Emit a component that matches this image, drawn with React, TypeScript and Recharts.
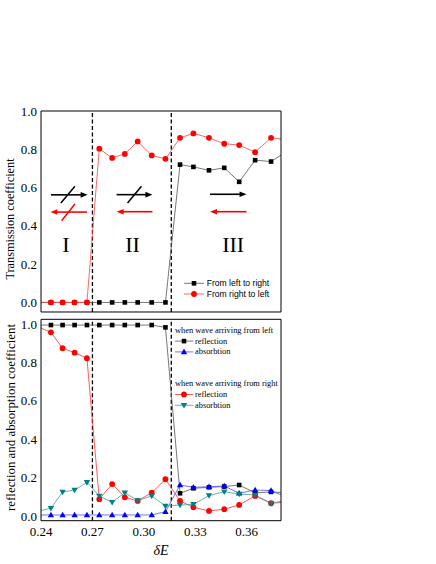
import React from 'react'
import { ComposedChart, Line, XAxis, YAxis, ReferenceLine, ReferenceDot, Legend, Label } from 'recharts'

// δE sample points; first and last sit just outside the plotted window
const deltaE = [0.2386, 0.2458, 0.2526, 0.2596, 0.2668, 0.274, 0.2815, 0.2889, 0.2964, 0.3046, 0.3126, 0.3211, 0.3289, 0.338, 0.3469, 0.3556, 0.3649, 0.3742, 0.3836]

// transmission
const transLeftToRight = [0, 0, 0, 0, 0, 0, 0, 0, 0, 0, 0, 0.72, 0.708, 0.69, 0.703, 0.63, 0.743, 0.736, 0.79]
const transRightToLeft = [0, 0, 0, 0, 0, 0.803, 0.755, 0.776, 0.841, 0.768, 0.75, 0.86, 0.883, 0.86, 0.829, 0.822, 0.785, 0.86, 0.85]

// reflection / absorption
const reflFromLeft = [0.995, 0.995, 0.995, 0.995, 0.995, 0.995, 0.995, 0.995, 0.995, 0.995, 0.983, 0.118, 0.144, 0.149, 0.153, 0.161, 0.12, 0.125, 0.12]
const absFromLeft = [0.005, 0.005, 0.005, 0.005, 0.005, 0.005, 0.005, 0.005, 0.005, 0.005, 0.022, 0.161, 0.149, 0.152, 0.156, 0.118, 0.135, 0.132, 0.096]
const reflFromRight = [0.985, 0.957, 0.874, 0.851, 0.822, 0.087, 0.166, 0.097, 0.078, 0.121, 0.191, 0.078, 0.045, 0.026, 0.035, 0.057, 0.104, 0.066, 0.072]
const absFromRight = [0.025, 0.04, 0.125, 0.135, 0.175, 0.104, 0.071, 0.121, 0.08, 0.104, 0.051, 0.057, 0.06, 0.106, 0.126, 0.114, 0.109, 0.066, 0.082]

const xMajor = [0.24, 0.27, 0.3, 0.33, 0.36]
const xMinor = [0.255, 0.285, 0.315, 0.345, 0.375]
const yMajor = [0, 0.2, 0.4, 0.6, 0.8, 1.0]
const yMinor = [0.1, 0.3, 0.5, 0.7, 0.9]
const regionEdges = [0.27, 0.316]

const X_DOMAIN: [number, number] = [0.24, 0.38]
const serif = '"Liberation Serif", "Times New Roman", serif'
const sans = '"Liberation Sans", Arial, sans-serif'

const topData = deltaE.map((x, i) => ({ x, ltr: transLeftToRight[i], rtl: transRightToLeft[i] }))
const bottomData = deltaE.map((x, i) => ({
  x,
  reflL: reflFromLeft[i],
  absL: absFromLeft[i],
  reflR: reflFromRight[i],
  absR: absFromRight[i],
}))

type Shape = 'square' | 'circle' | 'up' | 'down'

const topSeries = [
  { key: 'ltr', name: 'From left to right', fill: '#000000', stroke: '#555555', shape: 'square' as Shape },
  { key: 'rtl', name: 'From right to left', fill: '#ff0000', stroke: '#ff4040', shape: 'circle' as Shape },
]
const bottomSeries = [
  { key: 'reflL', name: 'reflection', fill: '#000000', stroke: '#555555', shape: 'square' as Shape },
  { key: 'absL', name: 'absorbtion', fill: '#0000ff', stroke: '#5050ff', shape: 'up' as Shape },
  { key: 'reflR', name: 'reflection', fill: '#ff0000', stroke: '#ff3030', shape: 'circle' as Shape },
  { key: 'absR', name: 'absorbtion', fill: '#008080', stroke: '#40a0a0', shape: 'down' as Shape },
]

// arrows and "blocked" slashes in the transmission panel
const arrows = [
  { from: { x: 0.2458, y: 0.562 }, to: { x: 0.2672, y: 0.562 }, color: '#000' },
  { from: { x: 0.2668, y: 0.472 }, to: { x: 0.2455, y: 0.472 }, color: '#ff0000' },
  { from: { x: 0.2841, y: 0.563 }, to: { x: 0.305, y: 0.563 }, color: '#000' },
  { from: { x: 0.305, y: 0.474 }, to: { x: 0.2841, y: 0.474 }, color: '#ff0000' },
  { from: { x: 0.3386, y: 0.565 }, to: { x: 0.3599, y: 0.565 }, color: '#000' },
  { from: { x: 0.3599, y: 0.474 }, to: { x: 0.3386, y: 0.474 }, color: '#ff0000' },
]
const slashes = [
  { from: { x: 0.2516, y: 0.519 }, to: { x: 0.2598, y: 0.607 }, color: '#000' },
  { from: { x: 0.252, y: 0.427 }, to: { x: 0.2598, y: 0.514 }, color: '#ff0000' },
  { from: { x: 0.2905, y: 0.519 }, to: { x: 0.2986, y: 0.607 }, color: '#000' },
]
const regions = [
  { text: 'I', x: 0.2545, y: 0.262 },
  { text: 'II', x: 0.2934, y: 0.262 },
  { text: 'III', x: 0.3521, y: 0.262 },
]

function Marker({ cx, cy, shape, fill }: { cx?: number; cy?: number; shape: Shape; fill: string }) {
  if (cx == null || cy == null || isNaN(cx) || isNaN(cy)) return null
  if (shape === 'square') return <rect x={cx - 2.3} y={cy - 2.3} width={4.6} height={4.6} fill={fill} />
  if (shape === 'circle') return <circle cx={cx} cy={cy} r={2.9} fill={fill} />
  if (shape === 'up')
    return <polygon points={`${cx},${cy - 3.3} ${cx - 3.2},${cy + 2.3} ${cx + 3.2},${cy + 2.3}`} fill={fill} />
  return <polygon points={`${cx},${cy + 3.3} ${cx - 3.2},${cy - 2.3} ${cx + 3.2},${cy - 2.3}`} fill={fill} />
}

const dotFor = (shape: Shape, fill: string) => (p: any) =>
  <Marker key={`dot-${p.index}`} cx={p.cx} cy={p.cy} shape={shape} fill={fill} />

function ArrowShape(props: any) {
  const { x1, y1, x2, y2, stroke } = props
  const dx = x2 - x1
  const dy = y2 - y1
  const len = Math.hypot(dx, dy) || 1
  const ux = dx / len
  const uy = dy / len
  const hl = 7
  const hw = 2.8
  const bx = x2 - ux * hl
  const by = y2 - uy * hl
  return (
    <g>
      <line x1={x1} y1={y1} x2={bx + ux} y2={by + uy} stroke={stroke} strokeWidth={1.6} />
      <polygon points={`${x2},${y2} ${bx - uy * hw},${by + ux * hw} ${bx + uy * hw},${by - ux * hw}`} fill={stroke} />
    </g>
  )
}

// inward tick marks on all four sides, majors longer than minors.
// mirrored axes need a non-zero size or recharts skips them; each pair
// also gets an invisible line so the axes are in use.
function frame(yDomain: [number, number], key: string) {
  const tickLine = { stroke: '#000', strokeWidth: 1 }
  const xc = { type: 'number' as const, dataKey: 'x', domain: X_DOMAIN, allowDataOverflow: true, mirror: true, height: 0.01, tick: false, tickLine, axisLine: false, interval: 0 as const }
  const yc = { type: 'number' as const, domain: yDomain, allowDataOverflow: true, mirror: true, width: 0.01, tick: false, tickLine, axisLine: false, interval: 0 as const }
  const pairs: [string, string][] = [['xb1', 'yl1'], ['xb2', 'yl2'], ['xt1', 'yr1'], ['xt2', 'yr2']]
  return [
    <XAxis key="xb1" xAxisId="xb1" orientation="bottom" {...xc} ticks={xMajor} tickSize={5} />,
    <XAxis key="xb2" xAxisId="xb2" orientation="bottom" {...xc} ticks={xMinor} tickSize={3} />,
    <XAxis key="xt1" xAxisId="xt1" orientation="top" {...xc} ticks={xMajor} tickSize={5} axisLine={{ stroke: '#000' }} />,
    <XAxis key="xt2" xAxisId="xt2" orientation="top" {...xc} ticks={xMinor} tickSize={3} />,
    <YAxis key="yl1" yAxisId="yl1" orientation="left" {...yc} ticks={yMajor} tickSize={5} />,
    <YAxis key="yl2" yAxisId="yl2" orientation="left" {...yc} ticks={yMinor} tickSize={3} />,
    <YAxis key="yr1" yAxisId="yr1" orientation="right" {...yc} ticks={yMajor} tickSize={5} axisLine={{ stroke: '#000' }} />,
    <YAxis key="yr2" yAxisId="yr2" orientation="right" {...yc} ticks={yMinor} tickSize={3} />,
    ...pairs.map(([xa, ya]) => (
      <Line
        key={`frame-${xa}`}
        xAxisId={xa}
        yAxisId={ya}
        dataKey={key}
        stroke="none"
        dot={false}
        activeDot={false}
        legendType="none"
        isAnimationActive={false}
      />
    )),
  ]
}

const tickStyle = { fontFamily: serif, fontSize: 13, fill: '#000' }

const realEntries = (props: any) => (props.payload ?? []).filter((e: any) => e.type !== 'none')

function TopLegend(props: any) {
  const payload = realEntries(props)
  return (
    <svg width={100} height={24} style={{ display: 'block', overflow: 'visible' }}>
      {topSeries.map((s, i) => {
        const e = payload.find((p: any) => p.dataKey === s.key)
        const y = 7.3 + i * 10.7
        return (
          <g key={s.key}>
            <line x1={4} x2={24} y1={y} y2={y} stroke={s.stroke} strokeWidth={0.8} />
            <Marker cx={14} cy={y} shape={s.shape} fill={s.fill} />
            <text x={26.7} y={y} dominantBaseline="central" fontFamily={sans} fontSize={8.6} fill="#000">
              {e ? e.value : s.name}
            </text>
          </g>
        )
      })}
    </svg>
  )
}

function BottomLegend(props: any) {
  const payload = realEntries(props)
  const groups = [
    { title: 'when wave arriving from left', keys: ['reflL', 'absL'], y0: 8.3 },
    { title: 'when wave arriving from right', keys: ['reflR', 'absR'], y0: 61.7 },
  ]
  return (
    <svg width={112} height={92} style={{ display: 'block', overflow: 'visible' }}>
      {groups.map((g) => (
        <g key={g.title}>
          <text x={3} y={g.y0} dominantBaseline="central" fontFamily={serif} fontSize={8.4} fill="#000">
            {g.title}
          </text>
          {g.keys.map((k, j) => {
            const s = bottomSeries.find((b) => b.key === k)!
            const e = payload.find((p: any) => p.dataKey === k)
            const y = g.y0 + 10.8 * (j + 1)
            return (
              <g key={k}>
                <line x1={3} x2={21.3} y1={y} y2={y} stroke={s.stroke} strokeWidth={0.8} />
                <Marker cx={12} cy={y} shape={s.shape} fill={s.fill} />
                <text x={23} y={y} dominantBaseline="central" fontFamily={serif} fontSize={8.4} fill="#000">
                  {e ? e.value : s.name}
                </text>
              </g>
            )
          })}
        </g>
      ))}
    </svg>
  )
}

export default function App() {
  return (
    <div style={{ position: 'absolute', left: 0, top: 0, width: 436, height: 564, background: '#fff' }}>
      <div style={{ position: 'absolute', left: 0, top: 0 }}>
        <ComposedChart width={436} height={314} data={topData} margin={{ top: 111, right: 155, bottom: 2, left: 0 }}>
          {frame([-0.05, 1.0], 'ltr')}
          <XAxis xAxisId="x" dataKey="x" type="number" domain={X_DOMAIN} allowDataOverflow orientation="bottom" height={0.01} ticks={xMajor} tick={false} tickLine={false} axisLine={{ stroke: '#000' }} />
          <YAxis
            yAxisId="y"
            type="number"
            domain={[-0.05, 1.0]}
            allowDataOverflow
            width={41}
            ticks={yMajor}
            interval={0}
            tickSize={0}
            tickMargin={4}
            tickLine={false}
            axisLine={{ stroke: '#000' }}
            tick={tickStyle}
            tickFormatter={(v: number) => v.toFixed(1)}
          >
            <Label
              content={(p: any) => {
                const vb = p.viewBox ?? { x: 0, y: 111, height: 201 }
                const cy = vb.y + vb.height / 2 + 7.5
                return (
                  <text x={10} y={cy} transform={`rotate(-90 10 ${cy})`} textAnchor="middle" dominantBaseline="central" fontFamily={serif} fontSize={12.3} fill="#000">
                    Transmission coefficient
                  </text>
                )
              }}
            />
          </YAxis>
          {regionEdges.map((x) => (
            <ReferenceLine key={`e${x}`} xAxisId="x" yAxisId="y" x={x} stroke="#000" strokeWidth={1.3} strokeDasharray="4 2.5" />
          ))}
          {arrows.map((a, i) => (
            <ReferenceLine key={`a${i}`} xAxisId="x" yAxisId="y" segment={[a.from, a.to]} stroke={a.color} shape={ArrowShape} />
          ))}
          {slashes.map((s, i) => (
            <ReferenceLine key={`s${i}`} xAxisId="x" yAxisId="y" segment={[s.from, s.to]} stroke={s.color} strokeWidth={1.5} />
          ))}
          {regions.map((r) => (
            <ReferenceDot
              key={r.text}
              xAxisId="x"
              yAxisId="y"
              x={r.x}
              y={r.y}
              r={0}
              shape={(p: any) => (
                <text x={p.cx} y={p.cy} textAnchor="middle" fontFamily={serif} fontSize={22} fill="#000">
                  {r.text}
                </text>
              )}
            />
          ))}
          {topSeries.map((s) => (
            <Line
              key={s.key}
              xAxisId="x"
              yAxisId="y"
              type="linear"
              dataKey={s.key}
              name={s.name}
              stroke={s.stroke}
              strokeWidth={0.8}
              dot={dotFor(s.shape, s.fill)}
              activeDot={false}
              isAnimationActive={false}
            />
          ))}
          <Legend
            layout="vertical"
            verticalAlign="middle"
            align="center"
            content={TopLegend}
            wrapperStyle={{ position: 'absolute', left: 180, top: 276, width: 100, height: 24 }}
          />
        </ComposedChart>
      </div>
      <div style={{ position: 'absolute', left: 0, top: 312 }}>
        <ComposedChart width={436} height={252} data={bottomData} margin={{ top: 7.3, right: 155, bottom: 0, left: 0 }}>
          {frame([-0.025, 1.025], 'reflL')}
          <XAxis
            xAxisId="x"
            dataKey="x"
            type="number"
            domain={X_DOMAIN}
            allowDataOverflow
            orientation="bottom"
            height={43.3}
            ticks={xMajor}
            interval={0}
            tickSize={0}
            tickMargin={6}
            tickLine={false}
            axisLine={{ stroke: '#000' }}
            tick={tickStyle}
            tickFormatter={(v: number) => v.toFixed(2)}
          >
            <Label
              content={(p: any) => {
                const vb = p.viewBox ?? { x: 41, y: 208.7, width: 240 }
                return (
                  <text x={vb.x + vb.width / 2} y={vb.y + 34} textAnchor="middle" fontFamily={serif} fontSize={14} fontStyle="italic" fill="#000">
                    δE
                  </text>
                )
              }}
            />
          </XAxis>
          <YAxis
            yAxisId="y"
            type="number"
            domain={[-0.025, 1.025]}
            allowDataOverflow
            width={41}
            ticks={yMajor}
            interval={0}
            tickSize={0}
            tickMargin={4}
            tickLine={false}
            axisLine={{ stroke: '#000' }}
            tick={tickStyle}
            tickFormatter={(v: number) => v.toFixed(1)}
          >
            <Label
              content={(p: any) => {
                const vb = p.viewBox ?? { x: 0, y: 7.3, height: 201.4 }
                const cy = vb.y + vb.height / 2 - 2.5
                return (
                  <text x={11} y={cy} transform={`rotate(-90 11 ${cy})`} textAnchor="middle" dominantBaseline="central" fontFamily={serif} fontSize={12.9} fill="#000">
                    reflection and absorption coefficient
                  </text>
                )
              }}
            />
          </YAxis>
          {regionEdges.map((x) => (
            <ReferenceLine key={`e${x}`} xAxisId="x" yAxisId="y" x={x} stroke="#000" strokeWidth={1.3} strokeDasharray="4 2.5" />
          ))}
          {bottomSeries.map((s) => (
            <Line
              key={s.key}
              xAxisId="x"
              yAxisId="y"
              type="linear"
              dataKey={s.key}
              name={s.name}
              stroke={s.stroke}
              strokeWidth={0.8}
              dot={dotFor(s.shape, s.fill)}
              activeDot={false}
              isAnimationActive={false}
            />
          ))}
          <Legend
            layout="vertical"
            verticalAlign="middle"
            align="center"
            content={BottomLegend}
            wrapperStyle={{ position: 'absolute', left: 172, top: 10, width: 112, height: 92 }}
          />
        </ComposedChart>
      </div>
    </div>
  )
}
